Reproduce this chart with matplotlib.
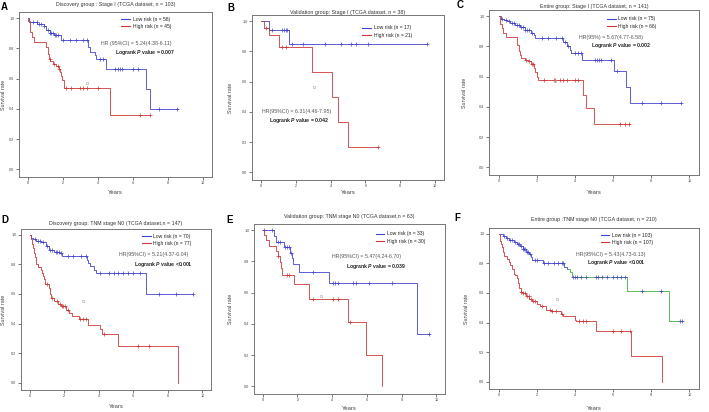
import numpy as np
import matplotlib
matplotlib.use("Agg")
import matplotlib.pyplot as plt
from matplotlib.lines import Line2D

plt.rcParams['font.family'] = 'Liberation Sans'
plt.rcParams['mathtext.fontset'] = 'custom'
plt.rcParams['mathtext.it'] = 'Liberation Sans:bold:italic'

# ---- data (years, survival) ----
# A: discovery, stage I
a_low_t = [0, 0.05, 0.55, 0.9, 1.05, 1.25, 1.5, 1.9, 3.43, 3.56, 3.81, 3.9, 4.48, 6.76, 6.99]
a_low_s = [1.0, 0.975, 0.96, 0.945, 0.92, 0.9, 0.885, 0.855, 0.81, 0.775, 0.753, 0.727, 0.665, 0.533, 0.40]
a_low_end = 8.57
a_low_cens = [0.3, 0.5, 0.65, 0.75, 0.95, 1.15, 1.25, 1.35, 1.45, 1.55, 1.6, 1.7, 2.0, 2.4, 2.75,
              3.15, 3.35, 4.1, 4.3, 4.95, 5.15, 5.25, 5.35, 6.0, 6.3, 7.5, 8.5]
a_high_t = [0, 0.02, 0.1, 0.13, 0.23, 0.38, 1.05, 1.14, 1.2, 1.28, 1.43, 1.62, 1.77, 1.85, 1.9, 1.96, 2.04, 4.67]
a_high_s = [1.0, 0.98, 0.94, 0.907, 0.875, 0.84, 0.81, 0.765, 0.73, 0.714, 0.698, 0.683, 0.665, 0.643,
            0.62, 0.588, 0.54, 0.36]
a_high_end = 6.95
a_high_cens = [1.25, 1.5, 1.7, 1.8, 2.2, 2.45, 2.95, 3.15, 3.35, 4.0, 6.4, 6.95]

# B: validation, stage I
b_low_t = [0, 0.5, 1.6]
b_low_s = [1.0, 0.94, 0.85]
b_low_end = 9.53
b_low_cens = [0.66, 1.2, 1.32, 1.42, 1.52, 1.8, 2.4, 3.68, 4.62, 5.19, 5.47, 6.13, 9.53]
b_high_t = [0, 0.19, 0.47, 1.05, 2.96, 4.06, 4.43, 5.0]
b_high_s = [1.0, 0.952, 0.905, 0.83, 0.665, 0.50, 0.333, 0.167]
b_high_end = 6.7
b_high_cens = [0.3, 1.2, 1.42, 6.7]

# C: entire, stage I
c_low_t = [0, 0.13, 0.3, 0.46, 0.62, 0.87, 1.11, 1.36, 1.69, 1.85, 1.93, 3.38, 3.57, 3.74, 3.82,
           4.39, 6.07, 6.69, 6.9]
c_low_s = [1.0, 0.98, 0.975, 0.965, 0.955, 0.94, 0.925, 0.905, 0.89, 0.875, 0.855, 0.83, 0.80, 0.775,
           0.755, 0.71, 0.64, 0.53, 0.425]
c_low_end = 9.56
c_low_cens = [0.2, 0.4, 0.55, 0.7, 0.8, 0.95, 1.05, 1.2, 1.3, 1.4, 1.5, 1.6, 1.75, 2.3, 2.6, 3.0, 3.3,
              3.5, 3.65, 4.0, 4.15, 4.3, 5.05, 5.15, 5.25, 5.38, 5.87, 6.2, 7.5, 8.5, 9.55]
c_high_t = [0, 0.05, 0.1, 0.16, 0.25, 0.38, 0.98, 1.07, 1.11, 1.2, 1.36, 1.52, 1.69, 1.85, 1.93, 2.02,
            2.07, 4.43, 4.59, 5.02]
c_high_s = [1.0, 0.97, 0.95, 0.92, 0.89, 0.86, 0.81, 0.77, 0.74, 0.72, 0.71, 0.70, 0.68, 0.66, 0.63,
            0.60, 0.58, 0.48, 0.39, 0.29]
c_high_end = 6.9
c_high_cens = [1.45, 1.6, 1.75, 1.8, 2.4, 2.9, 2.95, 3.2, 3.4, 3.6, 4.0, 4.15, 6.36, 6.6, 6.85]

# D: discovery, N0
d_low_t = [0, 0.1, 0.2, 0.38, 0.67, 0.95, 1.14, 1.43, 1.71, 1.9, 3.3, 3.39, 3.52, 3.71, 3.83, 6.76]
d_low_s = [1.0, 0.98, 0.975, 0.96, 0.95, 0.925, 0.9, 0.885, 0.875, 0.855, 0.83, 0.81, 0.79, 0.76, 0.74, 0.60]
d_low_end = 9.47
d_low_cens = [0.3, 0.5, 0.6, 0.8, 1.0, 1.2, 1.3, 1.5, 1.6, 1.7, 1.8, 2.2, 2.5, 3.0, 3.25, 4.1, 4.6,
              4.9, 5.1, 5.4, 5.7, 6.0, 6.4, 7.5, 8.5, 9.45]
d_high_t = [0, 0.06, 0.13, 0.19, 0.25, 0.29, 0.34, 0.38, 0.51, 0.63, 0.7, 0.76, 0.82, 0.91, 1.14, 1.2,
            1.24, 1.43, 1.62, 1.81, 2.1, 2.29, 2.48, 2.86, 3.4, 4.1, 4.19, 5.09, 8.61]
d_high_s = [1.0, 0.97, 0.94, 0.91, 0.88, 0.85, 0.82, 0.80, 0.78, 0.76, 0.74, 0.72, 0.70, 0.67, 0.64,
            0.60, 0.57, 0.55, 0.53, 0.52, 0.49, 0.47, 0.45, 0.43, 0.39, 0.36, 0.33, 0.245, 0.0]
d_high_end = 8.61
d_high_cens = [1.0, 1.3, 1.6, 1.75, 1.85, 1.95, 2.05, 2.2, 2.9, 3.1, 3.25, 4.3, 6.3, 6.9]

# E: validation, N0
e_low_t = [0, 0.63, 0.76, 1.2, 1.58, 1.67, 1.77, 2.09, 3.8, 8.9]
e_low_s = [1.0, 0.96, 0.925, 0.89, 0.857, 0.823, 0.783, 0.735, 0.664, 0.332]
e_low_end = 9.56
e_low_cens = [0.1, 0.55, 0.9, 1.0, 1.3, 1.4, 1.5, 1.65, 2.9, 4.05, 4.15, 4.35, 5.2, 5.4, 6.1, 7.45, 9.56]
e_high_t = [0, 0.06, 0.19, 0.38, 0.76, 0.87, 0.97, 1.06, 1.14, 1.82, 2.66, 4.9, 5.95, 6.9]
e_high_s = [1.0, 0.967, 0.938, 0.9, 0.867, 0.834, 0.796, 0.761, 0.712, 0.657, 0.558, 0.414, 0.2, 0.0]
e_high_end = 6.9
e_high_cens = [0.9, 1.4, 1.5, 2.9, 4.05, 4.35, 5.0]

# F: entire, N0
f_low_t = [0, 0.21, 0.38, 0.54, 0.79, 0.95, 1.11, 1.28, 1.44, 1.61, 1.69, 1.77, 2.34, 3.41, 3.57,
           3.74, 3.87, 6.72, 8.93]
f_low_s = [1.0, 0.984, 0.973, 0.96, 0.946, 0.93, 0.915, 0.9, 0.88, 0.866, 0.843, 0.82, 0.80, 0.776,
           0.76, 0.74, 0.709, 0.615, 0.407]
f_low_end = 9.6
f_low_cens = [0.3, 0.45, 0.6, 0.7, 0.85, 1.0, 1.05, 1.2, 1.3, 1.35, 1.4, 1.5, 1.55, 1.65, 1.9, 2.0,
              2.4, 2.6, 2.9, 3.1, 3.3, 3.4, 3.9, 4.0, 4.1, 4.3, 4.6, 5.1, 5.2, 5.4, 5.7, 6.0, 6.2,
              6.4, 6.6, 7.5, 8.5, 9.5, 9.6]
f_high_t = [0, 0.05, 0.1, 0.13, 0.16, 0.21, 0.3, 0.46, 0.54, 0.62, 0.7, 0.79, 0.87, 0.95, 1.03, 1.08,
            1.15, 1.28, 1.44, 1.61, 1.77, 2.02, 2.18, 2.51, 2.75, 3.28, 3.38, 3.98, 4.07, 5.08, 6.93, 8.57]
f_high_s = [1.0, 0.978, 0.955, 0.93, 0.91, 0.877, 0.85, 0.83, 0.81, 0.79, 0.765, 0.73, 0.72, 0.7,
            0.67, 0.635, 0.61, 0.6, 0.58, 0.56, 0.545, 0.523, 0.51, 0.486, 0.48, 0.46, 0.445, 0.42,
            0.407, 0.34, 0.172, 0.0]
f_high_end = 8.57
f_high_cens = [1.2, 1.3, 1.4, 1.5, 1.6, 1.7, 1.8, 1.9, 2.3, 2.7, 2.8, 3.0, 3.3, 4.2, 4.4, 4.6, 6.0, 6.4, 6.9]

letters = ["A", "B", "C", "D", "E", "F"]
titles = [
    "Discovery group : Stage I (TCGA dataset, n = 103)",
    "Validation group: Stage I (TCGA dataset, n = 38)",
    "Entire group: Stage I (TCGA dataset, n = 141)",
    "Discovery group: TNM stage N0 (TCGA dataset,n = 147)",
    "Validation group: TNM stage N0 (TCGA dataset,n = 63)",
    "Entire group :TNM stage N0 (TCGA dataset, n = 210)",
]
n_low = [58, 17, 75, 70, 33, 103]
n_high = [45, 21, 66, 77, 30, 107]
hr_texts = [
    "HR (95%CI) = 5.24(4.38-6.11)",
    "HR(95%CI) = 6.31(4.46-7.95)",
    "HR(95%) = 5.67(4.77-6.58)",
    "HR(95%CI) = 5.21(4.37-6.04)",
    "HR(95%CI) = 5.47(4.24-6.70)",
    "HR(95%CI) = 5.43(4.73-6.13)",
]
p_texts = ["= 0.007", "= 0.042", "= 0.002", "<0.001", "= 0.039", "<0.001"]
stray_x = [3.37, 3.07, 2.97, 3.09, 3.33, 3.08]
stray_y = [0.57, 0.566, 0.57, 0.554, 0.578, 0.56]

curves = [
    (a_low_t, a_low_s, a_low_end, a_low_cens, a_high_t, a_high_s, a_high_end, a_high_cens),
    (b_low_t, b_low_s, b_low_end, b_low_cens, b_high_t, b_high_s, b_high_end, b_high_cens),
    (c_low_t, c_low_s, c_low_end, c_low_cens, c_high_t, c_high_s, c_high_end, c_high_cens),
    (d_low_t, d_low_s, d_low_end, d_low_cens, d_high_t, d_high_s, d_high_end, d_high_cens),
    (e_low_t, e_low_s, e_low_end, e_low_cens, e_high_t, e_high_s, e_high_end, e_high_cens),
    (f_low_t, f_low_s, f_low_end, f_low_cens, f_high_t, f_high_s, f_high_end, f_high_cens),
]

# ---- layout (pixels of a 709x412 canvas) ----
W, H = 709, 412
boxes = [(19, 212, 12, 177), (252, 444, 15, 180), (489, 699, 10, 175),
         (21, 211, 229, 390), (254, 445, 224, 394), (489, 699, 228, 389)]
title_pad = [4.0, 0.5, 1.5, 2.7, 4.0, 4.7]
years_y = [193, 192.7, 193, 407, 408, 408]
ylab_off = [15, 22, 24, 17, 24, 23]
letter_xy = [(4.5, 7.5), (231, 8), (460, 5), (5, 219.5), (230, 220), (457, 217.5)]
legend_xy = [(0.53, 0.972), (0.575, 0.937), (0.563, 0.962), (0.637, 0.972), (0.637, 0.957), (0.532, 0.972)]
hr_xy = [(0.423, 0.812), (0.052, 0.414), (0.429, 0.834), (0.518, 0.84), (0.407, 0.81), (0.413, 0.837)]
p_xy = [(0.496, 0.754), (0.09, 0.36), (0.484, 0.782), (0.593, 0.778), (0.48, 0.751), (0.468, 0.786)]

BLUE = "#4444cc"
RED = "#cc3838"
GREEN = "#3cb43c"
GREEN_FROM = 3.6


def censor_y(t, s, cens):
    idx = np.searchsorted(t, cens, side="right") - 1
    return np.array(s)[idx]


def km(ax, t, s, end, cens, color, split=None, color2=None):
    if split is None:
        ax.step(t + [end], s + [s[-1]], where="post", color=color, lw=0.6)
    else:
        k = int(np.searchsorted(t, split, side="right"))
        ax.step(t[:k] + [split], s[:k] + [s[k - 1]], where="post", color=color, lw=0.6)
        ax.step([split] + t[k:] + [end], [s[k - 1]] + s[k:] + [s[-1]], where="post", color=color2, lw=0.6)
    ax.plot(cens, censor_y(t, s, cens), "+", color=color, ms=2.6, mew=0.5, ls="none")


fig = plt.figure(figsize=(W / 100, H / 100), dpi=100)

for i in range(6):
    l, r, t0, b = boxes[i]
    ax = fig.add_axes([l / W, 1 - b / H, (r - l) / W, (b - t0) / H])
    lt, ls_, le, lc, ht, hs, he, hc = curves[i]
    if i == 5:
        km(ax, lt, ls_, le, lc, BLUE, split=GREEN_FROM, color2=GREEN)
    else:
        km(ax, lt, ls_, le, lc, BLUE)
    km(ax, ht, hs, he, hc, RED)
    ax.plot([stray_x[i]], [stray_y[i]], "o", mfc="none", mec="#aaaaaa", ms=1.8, mew=0.4)

    ax.set_xlim(-0.5, 10.5)
    ax.set_ylim(-0.05, 1.04)
    ax.set_xticks(range(0, 11, 2))
    ax.set_yticks([0, 0.2, 0.4, 0.6, 0.8, 1.0])
    ax.set_yticklabels(["0.0", "0.2", "0.4", "0.6", "0.8", "1.0"])
    ax.tick_params(length=2.0, width=0.5, labelsize=2.7, pad=1.2, colors="#444444")
    for sp in ax.spines.values():
        sp.set_color("#777777")
        sp.set_linewidth(0.7)

    ax.set_title(titles[i], fontsize=3.8, color="#333333", pad=title_pad[i])
    ax.set_xlabel("Years", fontsize=4.2, color="#444444")
    ax.xaxis.set_label_coords(0.5, -(years_y[i] - b) / (b - t0))
    ax.xaxis.label.set_va("center")
    ax.set_ylabel("Survival rate", fontsize=3.9, color="#444444")
    ax.yaxis.set_label_coords(-ylab_off[i] / (r - l), 0.5)
    ax.yaxis.label.set_va("center")

    handles = [Line2D([], [], color=BLUE, lw=0.8), Line2D([], [], color=RED, lw=0.8)]
    ax.legend(handles, [f"Low risk (n = {n_low[i]})", f"High risk (n = {n_high[i]})"],
              loc="upper left", bbox_to_anchor=legend_xy[i], borderaxespad=0, borderpad=0,
              frameon=False, prop={"size": 3.6}, labelcolor="#222222", handlelength=1.7,
              handletextpad=0.55, labelspacing=0.5)
    ax.text(hr_xy[i][0], hr_xy[i][1], hr_texts[i], transform=ax.transAxes, fontsize=3.8,
            color="#555555", va="center", ha="left")
    ax.text(p_xy[i][0], p_xy[i][1], "Logrank $P$ value " + p_texts[i], transform=ax.transAxes,
            fontsize=3.7, fontweight="bold", color="#222222", va="center", ha="left")

    fig.text(letter_xy[i][0] / W, 1 - letter_xy[i][1] / H, letters[i], fontsize=7,
             fontweight="bold", ha="center", va="center")

fig.savefig("out.png", dpi=100)
